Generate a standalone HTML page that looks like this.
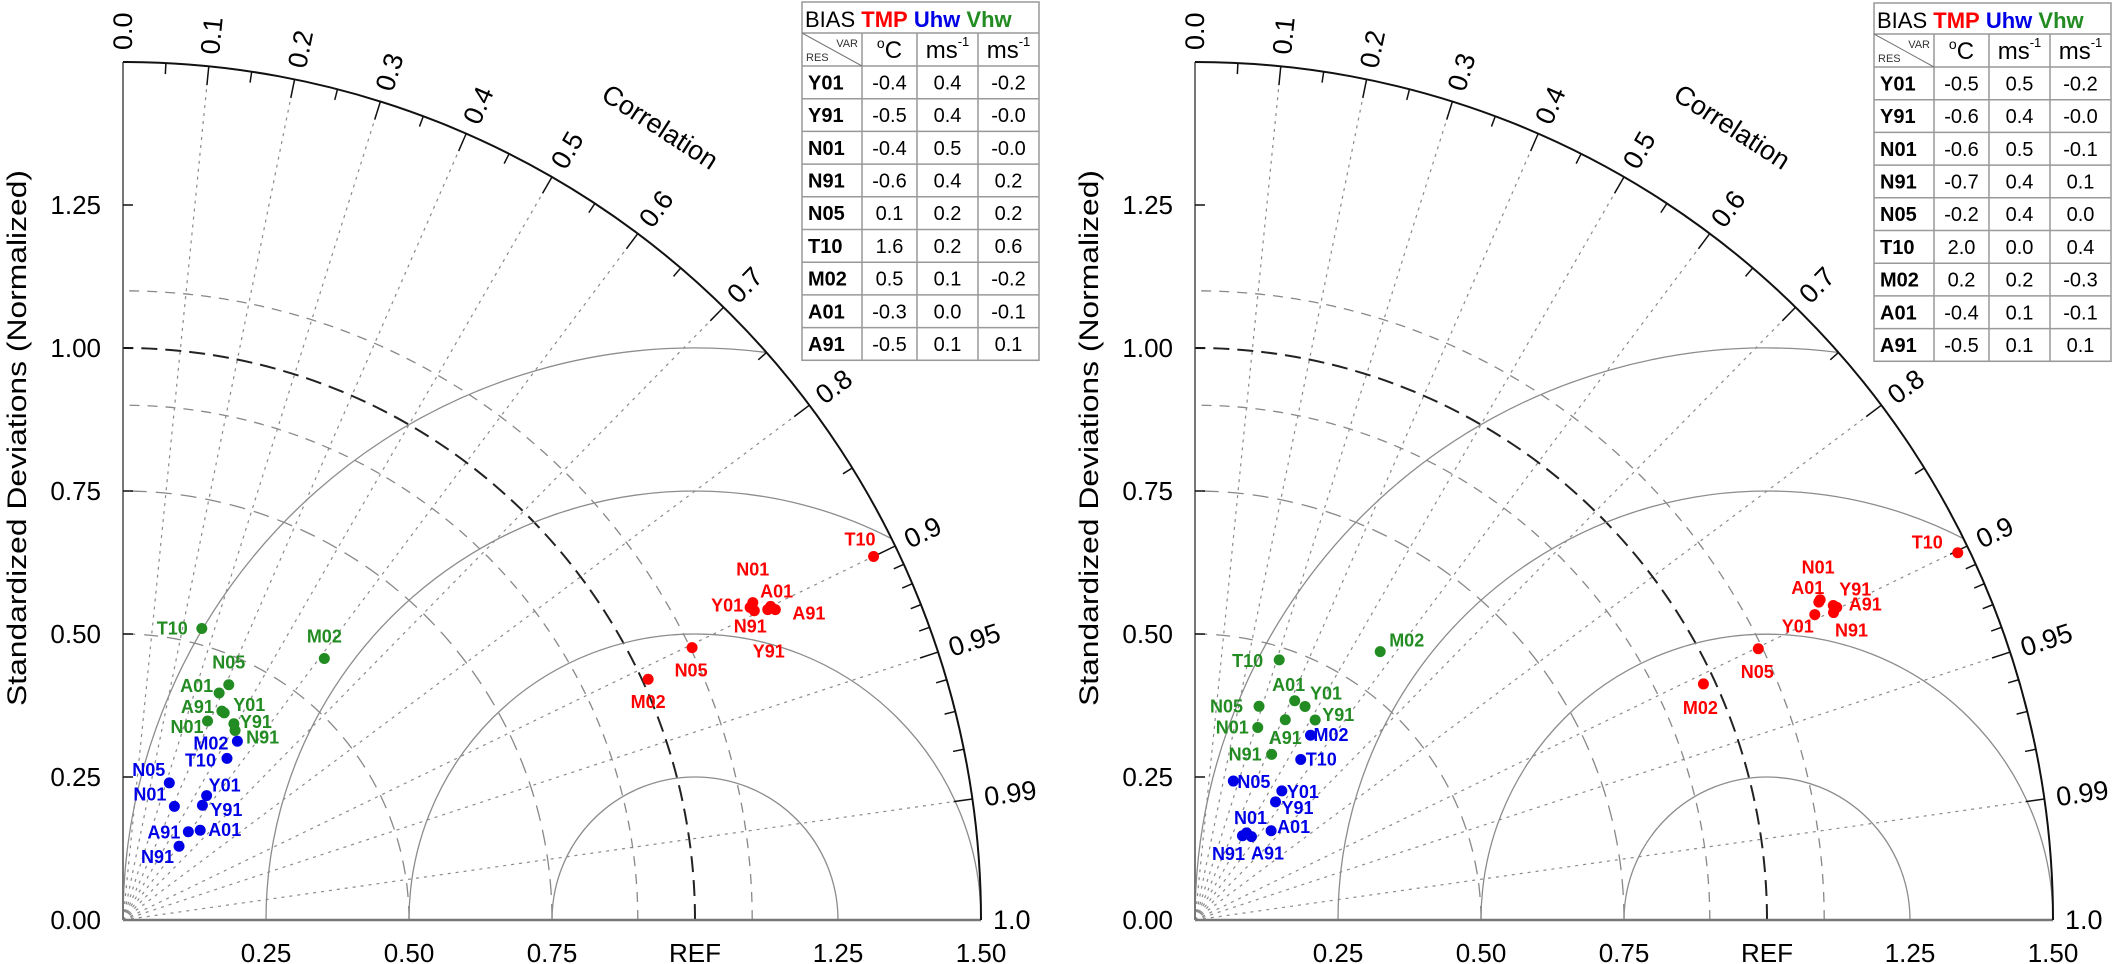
<!DOCTYPE html>
<html><head><meta charset="utf-8"><style>
html,body{margin:0;padding:0;background:#fff}
svg{display:block}
text{font-family:"Liberation Sans",sans-serif}
</style></head><body>
<svg id="chart" width="2112" height="964" viewBox="0 0 2112 964" xmlns="http://www.w3.org/2000/svg"></svg>
<script>
// ---------- data: left diagram ----------
const leftNames = ["Y01","Y91","N01","N91","N05","T10","M02","A01","A91"];
const leftTmpStd  = [1.225,1.251,1.233,1.229,1.103,1.458,1.010,1.258,1.263];
const leftTmpCor  = [0.895,0.901,0.893,0.898,0.902,0.900,0.909,0.900,0.903];
const leftUhwStd  = [0.262,0.244,0.218,0.162,0.253,0.336,0.371,0.207,0.192];
const leftUhwCor  = [0.558,0.569,0.412,0.605,0.320,0.541,0.539,0.652,0.595];
const leftVhwStd  = [0.403,0.394,0.378,0.385,0.451,0.528,0.577,0.431,0.404];
const leftVhwCor  = [0.439,0.492,0.391,0.509,0.410,0.261,0.610,0.390,0.428];
const leftBiasTmp = ["-0.4","-0.5","-0.4","-0.6","0.1","1.6","0.5","-0.3","-0.5"];
const leftBiasUhw = ["0.4","0.4","0.5","0.4","0.2","0.2","0.1","0.0","0.1"];
const leftBiasVhw = ["-0.2","-0.0","-0.0","0.2","0.2","0.6","-0.2","-0.1","0.1"];
// ---------- data: right diagram ----------
const rightNames = ["Y01","Y91","N01","N91","N05","T10","M02","A01","A91"];
const rightTmpStd  = [1.208,1.244,1.228,1.239,1.093,1.480,0.980,1.224,1.248];
const rightTmpCor  = [0.897,0.897,0.890,0.901,0.901,0.901,0.907,0.891,0.899];
const rightUhwStd  = [0.272,0.250,0.177,0.169,0.252,0.336,0.381,0.205,0.176];
const rightUhwCor  = [0.558,0.563,0.509,0.491,0.266,0.550,0.530,0.649,0.561];
const rightVhwStd  = [0.420,0.408,0.354,0.319,0.390,0.478,0.570,0.421,0.384];
const rightVhwCor  = [0.458,0.515,0.310,0.420,0.287,0.308,0.568,0.414,0.411];
const rightBiasTmp = ["-0.5","-0.6","-0.6","-0.7","-0.2","2.0","0.2","-0.4","-0.5"];
const rightBiasUhw = ["0.5","0.4","0.5","0.4","0.4","0.0","0.2","0.1","0.1"];
const rightBiasVhw = ["-0.2","-0.0","-0.1","0.1","0.0","0.4","-0.3","-0.1","0.1"];
// axis tick labels
const stdTicks = [0.25,0.5,0.75,1.0,1.25];
const stdTickLabels = ["0.25","0.50","0.75","1.00","1.25"];
const xTickLabels = ["0.25","0.50","0.75","REF","1.25","1.50"];
const corMajor = [0.0,0.1,0.2,0.3,0.4,0.5,0.6,0.7,0.8,0.9,0.95,0.99,1.0];
const corMajorLabels = ["0.0","0.1","0.2","0.3","0.4","0.5","0.6","0.7","0.8","0.9","0.95","0.99","1.0"];
const corMinor = [0.05,0.15,0.25,0.35,0.45,0.55,0.65,0.75,0.85,0.91,0.92,0.93,0.94,0.96,0.97,0.98];
const corRays = [0.1,0.2,0.3,0.4,0.5,0.6,0.7,0.8,0.9,0.95,0.99];

// label placement (style only): [anchor, dx, dy] per name order
const LS={
 leftTmp:[["end",-7,4],["middle",1,48],["middle",0,-27],["middle",-4,22],["middle",-1,29],["end",2,-11],["middle",0,29],["middle",6,-9],["start",17,10]],
 leftUhw:[["start",2,-4],["start",8,11],["end",-8,-6],["end",-5,17],["end",-4,-7],["end",-11,8],["end",-9,8],["start",8,6],["end",-8,7]],
 leftVhw:[["start",9,-2],["start",6,4],["end",-4,12],["start",11,13],["middle",0,-16],["end",-14,6],["middle",0,-16],["end",-6,-1],["end",-8,2]],
 rightTmp:[["end",-1,18],["start",6,-10],["middle",-2,-26],["middle",18,24],["middle",-1,29],["end",-15,-4],["middle",-3,30],["middle",-11,-8],["start",12,3]],
 rightUhw:[["start",5,7],["start",6,12],["middle",4,-9],["middle",-14,24],["start",4,7],["start",5,6],["start",3,6],["start",6,2],["middle",16,23]],
 rightVhw:[["start",5,-7],["start",7,1],["end",-9,6],["end",-10,6],["end",-16,6],["end",-16,7],["start",9,-5],["middle",-6,-10],["middle",0,24]]
};

const NS="http://www.w3.org/2000/svg";
const svg=document.getElementById('chart');
function mk(tag,attrs,parent){const e=document.createElementNS(NS,tag);for(const k in attrs)e.setAttribute(k,attrs[k]);(parent||svg).appendChild(e);return e;}

const U=572, SMAX=1.5;
const RED="#ff0000", BLUE="#0000e6", GREEN="#228b22";

function drawDiagram(id,ox,oy,names,series,bias,tbl){
  const g=mk('g',{});
  
  
  const px=(s,c)=>ox+s*c*U;
  const py=(s,c)=>oy-s*Math.sqrt(Math.max(0,1-c*c))*U;
  const R=SMAX*U;
  // correlation rays
  corRays.forEach(c=>{
    const l=mk('line',{x1:ox,y1:oy,x2:px(SMAX,c),y2:py(SMAX,c),stroke:"#8a8a8a","stroke-width":1.2,"stroke-dasharray":"3 5"},g);
    
    
  });
  // std dashed arcs
  [[0.5,"#888","14 9",1.3],[0.75,"#888","16 9",1.3],[0.9,"#888","10 8",1.3],[1.1,"#888","10 8",1.3],[1.0,"#222","16 8",2]].forEach(a=>{
    const r=a[0]*U;
    const p=mk('path',{d:`M${ox+r},${oy} A${r},${r} 0 0 0 ${ox},${oy-r}`,fill:"none",stroke:a[1],"stroke-dasharray":a[2],"stroke-width":a[3]},g);
    
    
  });
  // RMS arcs centered at REF
  [0.25,0.5,0.75,1.0].forEach(rho=>{
    let ex,ey;
    const xi=(SMAX*SMAX+1-rho*rho)/2;
    if(xi>=1+rho-1e-9){ex=1+rho;ey=0;} else {ex=xi;ey=Math.sqrt(SMAX*SMAX-xi*xi);}
    const r=rho*U;
    const p=mk('path',{d:`M${ox+(1-rho)*U},${oy} A${r},${r} 0 0 1 ${ox+ex*U},${oy-ey*U}`,fill:"none",stroke:"#8c8c8c","stroke-width":1.3},g);
    
    
  });
  // axes
  let ax=mk('line',{x1:ox,y1:oy,x2:ox+R,y2:oy,stroke:"#777","stroke-width":2.5},g);
  
  
  ax=mk('line',{x1:ox,y1:oy,x2:ox,y2:oy-R,stroke:"#777","stroke-width":2},g);
  
  
  const oa=mk('path',{d:`M${ox+R},${oy} A${R},${R} 0 0 0 ${ox},${oy-R}`,fill:"none",stroke:"#111","stroke-width":2},g);
  
  
  // y ticks & labels
  stdTicks.forEach((s,i)=>{
    mk('line',{x1:ox,y1:oy-s*U,x2:ox+10,y2:oy-s*U,stroke:"#111","stroke-width":1.5},g);
    const t=mk('text',{x:ox-22,y:oy-s*U+9,"text-anchor":"end","font-size":26,fill:"#000"},g);
    t.textContent=stdTickLabels[i];
    
    
  });
  let t0=mk('text',{x:ox-22,y:oy+9,"text-anchor":"end","font-size":26,fill:"#000"},g);
  t0.textContent="0.00";
  
  
  xTickLabels.forEach((lab,i)=>{
    const t=mk('text',{x:ox+(i+1)*0.25*U,y:oy+42,"text-anchor":"middle","font-size":26,fill:"#000"},g);
    t.textContent=lab;
    
    
  });
  // corr ticks
  corMajor.forEach((c,i)=>{
    const a=Math.acos(c), ca=Math.cos(a), sa=Math.sin(a);
    if(c>0 && c<1) mk('line',{x1:ox+R*ca,y1:oy-R*sa,x2:ox+(R-19)*ca,y2:oy-(R-19)*sa,stroke:"#111","stroke-width":1.5},g);
    const rr=R+12, deg=-a*180/Math.PI;
    const tx=ox+rr*ca, ty=oy-rr*sa;
    const t=mk('text',{x:tx,y:ty,"text-anchor":"start","dominant-baseline":"central","font-size":27,fill:"#000",transform:`rotate(${deg} ${tx} ${ty})`},g);
    t.textContent=corMajorLabels[i];
    
    
  });
  corMinor.forEach(c=>{
    const a=Math.acos(c), ca=Math.cos(a), sa=Math.sin(a);
    mk('line',{x1:ox+R*ca,y1:oy-R*sa,x2:ox+(R-11)*ca,y2:oy-(R-11)*sa,stroke:"#111","stroke-width":1.5},g);
  });
  const ct=mk('text',{x:ox+537,y:oy-793,"text-anchor":"middle","dominant-baseline":"central","font-size":27,fill:"#000",transform:`rotate(33 ${ox+537} ${oy-793})`},g);
  ct.textContent="Correlation";
  
  
  const yt=mk('text',{x:ox-106,y:438,"text-anchor":"middle","dominant-baseline":"central","font-size":27,fill:"#000",textLength:536,lengthAdjust:"spacingAndGlyphs",transform:`rotate(-90 ${ox-106} 438)`},g);
  yt.textContent="Standardized Deviations (Normalized)";
  
  
  // points
  series.forEach(sr=>{
    names.forEach((n,i)=>{
      const x=px(sr.std[i],sr.cor[i]), y=py(sr.std[i],sr.cor[i]);
      const c=mk('circle',{cx:x,cy:y,r:5.5,fill:sr.color},g);
      
      
      const L=sr.lab[i];
      const t=mk('text',{x:x+L[1],y:y+L[2],"text-anchor":L[0],"font-size":18,"font-weight":"bold",fill:sr.color},g);
      t.textContent=n;
      
      
    });
  });
  // table
  const tg=mk('g',{},g);
  
  
  const cols=tbl.cols, top=tbl.top, hb=top+31, ub=hb+33, rh=32.7;
  const bottom=ub+rh*names.length;
  const st={stroke:"#999","stroke-width":1.5};
  mk('rect',{x:cols[0],y:top,width:cols[4]-cols[0],height:bottom-top,fill:"#fff",stroke:"#999","stroke-width":1.5},tg);
  mk('line',Object.assign({x1:cols[0],y1:hb,x2:cols[4],y2:hb},st),tg);
  for(let r=0;r<=names.length;r++) mk('line',Object.assign({x1:cols[0],y1:ub+r*rh,x2:cols[4],y2:ub+r*rh},st),tg);
  for(let c=1;c<4;c++) mk('line',Object.assign({x1:cols[c],y1:hb,x2:cols[c],y2:bottom},st),tg);
  const h=mk('text',{x:cols[0]+3,y:top+25,"font-size":22,fill:"#000"},tg);
  h.innerHTML='BIAS <tspan font-weight="bold" fill="'+RED+'">TMP</tspan> <tspan font-weight="bold" fill="'+BLUE+'">Uhw</tspan> <tspan font-weight="bold" fill="'+GREEN+'">Vhw</tspan>';
  
  
  mk('line',{x1:cols[0],y1:hb,x2:cols[1],y2:ub,stroke:"#777","stroke-width":1},tg);
  let s=mk('text',{x:cols[1]-4,y:hb+14,"text-anchor":"end","font-size":11,fill:"#333"},tg); s.textContent="VAR";
  s=mk('text',{x:cols[0]+4,y:ub-5,"font-size":11,fill:"#333"},tg); s.textContent="RES";
  const uc=[(cols[1]+cols[2])/2,(cols[2]+cols[3])/2,(cols[3]+cols[4])/2];
  let u=mk('text',{x:uc[0],y:ub-8,"text-anchor":"middle","font-size":24,fill:"#000"},tg);
  u.innerHTML='<tspan font-size="14" dy="-10">o</tspan><tspan dy="10">C</tspan>';
  for(let k=1;k<3;k++){u=mk('text',{x:uc[k],y:ub-8,"text-anchor":"middle","font-size":24,fill:"#000"},tg);
    u.innerHTML='ms<tspan font-size="13" dy="-12">-1</tspan>';}
  names.forEach((n,i)=>{
    const yb=ub+i*rh+rh/2+7;
    let t=mk('text',{x:cols[0]+6,y:yb,"font-size":20,"font-weight":"bold",fill:"#000"},tg);t.textContent=n;
    
    
    [bias[0][i],bias[1][i],bias[2][i]].forEach((v,k)=>{
      const tt=mk('text',{x:uc[k],y:yb,"text-anchor":"middle","font-size":20,fill:"#000"},tg);tt.textContent=v;
      
      
    });
  });
}

drawDiagram('left',123,920,leftNames,[
  {key:'uhw',std:leftUhwStd,cor:leftUhwCor,color:BLUE,lab:LS.leftUhw},
  {key:'vhw',std:leftVhwStd,cor:leftVhwCor,color:GREEN,lab:LS.leftVhw},
  {key:'tmp',std:leftTmpStd,cor:leftTmpCor,color:RED,lab:LS.leftTmp}
],[leftBiasTmp,leftBiasUhw,leftBiasVhw],{cols:[802,862,917,978,1039],top:2});

drawDiagram('right',1195,920,rightNames,[
  {key:'uhw',std:rightUhwStd,cor:rightUhwCor,color:BLUE,lab:LS.rightUhw},
  {key:'vhw',std:rightVhwStd,cor:rightVhwCor,color:GREEN,lab:LS.rightVhw},
  {key:'tmp',std:rightTmpStd,cor:rightTmpCor,color:RED,lab:LS.rightTmp}
],[rightBiasTmp,rightBiasUhw,rightBiasVhw],{cols:[1874,1934,1989,2050,2111],top:3});
</script>
</body></html>
